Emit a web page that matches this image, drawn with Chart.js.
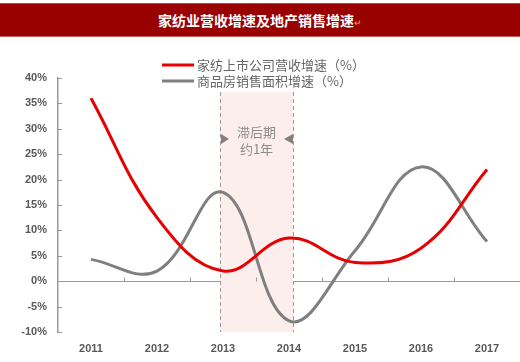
<!DOCTYPE html>
<html>
<head>
<meta charset="utf-8">
<script src="https://cdn.jsdelivr.net/npm/chart.js@4"></script>
<style>
  html, body { margin: 0; padding: 0; background: #fff; }
  #wrap { position: relative; width: 520px; height: 362px; }
  #title { position: absolute; left: 0; top: 3px; width: 520px; height: 34px; background: #990000;
    border-top: 1px solid #b94a4a; border-bottom: 1px solid #c86060; box-sizing: border-box;
    color: #fff; font: bold 14px "Noto Sans CJK SC", sans-serif; line-height: 32px; text-align: center; }
  #title span { color: #d9a0a0; font-size: 9px; font-weight: normal; }
  canvas { position: absolute; left: 0; top: 0; }
</style>
</head>
<body>
<div id="wrap">
  <canvas id="c" width="520" height="362"></canvas>
  <div id="title">家纺业营收增速及地产销售增速<span>↵</span></div>
</div>
<script>
const categories = ["2011", "2012", "2013", "2014", "2015", "2016", "2017"];
const revenueGrowth = [36, 12.5, 2, 8.5, 3.7, 6.5, 22];
const salesAreaGrowth = [4.3, 2, 17.5, -7.8, 6, 22.5, 7.8];
const seriesNames = ["家纺上市公司营收增速（%）", "商品房销售面积增速（%）"];
const yTicks = [-10, -5, 0, 5, 10, 15, 20, 25, 30, 35, 40];
const lagLabel = ["滞后期", "约1年"];
const lagRange = ["2013", "2014"];

const decorPlugin = {
  id: 'decor',
  beforeDatasetsDraw(chart) {
    const { ctx, chartArea, scales } = chart;
    const x = scales.x, y = scales.y;
    const xl = x.getPixelForValue(categories.indexOf(lagRange[0])) - 3;
    const xr = x.getPixelForValue(categories.indexOf(lagRange[1])) + 4;
    const top = chartArea.top + 14, bottom = chartArea.bottom;
    ctx.save();
    ctx.fillStyle = '#fdeeee';
    ctx.fillRect(xl, top, xr - xl, bottom - top);
    ctx.strokeStyle = '#9a9a9a';
    ctx.lineWidth = 1;
    ctx.setLineDash([4, 3]);
    [xl, xr].forEach(px => {
      ctx.beginPath(); ctx.moveTo(px + 0.5, top); ctx.lineTo(px + 0.5, bottom); ctx.stroke();
    });
    ctx.setLineDash([]);
    const ay = top + 47;
    ctx.fillStyle = '#808080';
    ctx.beginPath(); ctx.moveTo(xl + 1, ay - 5); ctx.lineTo(xl + 9, ay); ctx.lineTo(xl + 1, ay + 5); ctx.closePath(); ctx.fill();
    ctx.beginPath(); ctx.moveTo(xr, ay - 5); ctx.lineTo(xr - 9, ay); ctx.lineTo(xr, ay + 5); ctx.closePath(); ctx.fill();
    ctx.fillStyle = '#8c8c8c';
    ctx.font = '13px "Noto Sans CJK SC", sans-serif';
    ctx.textAlign = 'center';
    ctx.textBaseline = 'middle';
    const cx = (xl + xr) / 2;
    ctx.fillText(lagLabel[0], cx, ay - 7);
    ctx.fillText(lagLabel[1], cx, ay + 10);
    ctx.strokeStyle = '#9a9a9a';
    ctx.lineWidth = 1;
    const y0 = Math.round(y.getPixelForValue(0)) + 0.5;
    for (let i = 1; i <= categories.length; i++) {
      const px = Math.round(x.getPixelForValue(i - 0.5)) + 0.5;
      ctx.beginPath(); ctx.moveTo(px, y0); ctx.lineTo(px, y0 - 4); ctx.stroke();
    }
    yTicks.forEach(v => {
      const py = Math.round(y.getPixelForValue(v)) + 0.5;
      ctx.beginPath(); ctx.moveTo(chartArea.left, py); ctx.lineTo(chartArea.left + 4, py); ctx.stroke();
    });
    ctx.restore();
  },
  afterDraw(chart) {
    const { ctx } = chart;
    ctx.save();
    ctx.font = '13px "Noto Sans CJK SC", sans-serif';
    ctx.textBaseline = 'middle';
    ctx.textAlign = 'left';
    chart.data.datasets.forEach((ds, i) => {
      const ly = 65 + i * 16;
      ctx.strokeStyle = ds.borderColor;
      ctx.lineWidth = 3;
      ctx.beginPath(); ctx.moveTo(162, ly); ctx.lineTo(194, ly); ctx.stroke();
      ctx.fillStyle = '#666';
      ctx.fillText(ds.label, 197, ly);
    });
    ctx.restore();
  }
};

new Chart(document.getElementById('c'), {
  type: 'line',
  data: {
    labels: categories,
    datasets: [
      { label: seriesNames[0], data: revenueGrowth, borderColor: '#e60000', borderWidth: 3, pointRadius: 0, tension: 0.4, fill: false },
      { label: seriesNames[1], data: salesAreaGrowth, borderColor: '#7f7f7f', borderWidth: 3, pointRadius: 0, tension: 0.4, fill: false }
    ]
  },
  options: {
    responsive: false,
    animation: false,
    layout: { padding: { top: 78, left: 21, right: 0, bottom: 0 } },
    plugins: { legend: { display: false }, title: { display: false }, tooltip: { enabled: false } },
    scales: {
      x: {
        offset: true,
        grid: { display: false, drawTicks: false },
        border: { display: false },
        afterFit(axis) { axis.height = 30; },
        ticks: { color: '#595959', font: { family: '"Liberation Sans", sans-serif', size: 11, weight: 'bold' }, padding: 10, maxRotation: 0 }
      },
      y: {
        min: -10, max: 40,
        afterBuildTicks(axis) { axis.ticks = yTicks.map(v => ({ value: v })); },
        afterFit(axis) { axis.width = 37; },
        grid: { drawTicks: false, color: ctx => ctx.tick && ctx.tick.value === 0 ? '#9a9a9a' : 'rgba(0,0,0,0)', lineWidth: 1 },
        border: { display: true, color: '#9a9a9a', width: 1.5 },
        ticks: { color: '#595959', padding: 11, font: { family: '"Liberation Sans", sans-serif', size: 11, weight: 'bold' }, callback: v => v + '%' }
      }
    }
  },
  plugins: [decorPlugin]
});
</script>
</body>
</html>
